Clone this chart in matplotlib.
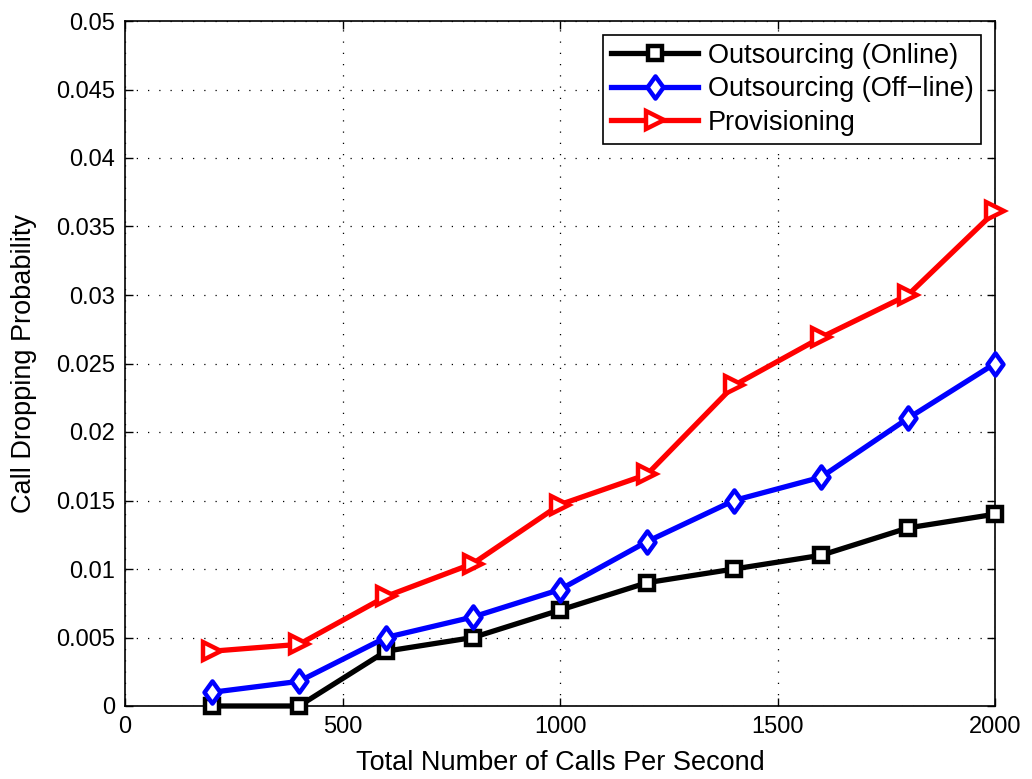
import matplotlib
matplotlib.use("Agg")
import matplotlib.pyplot as plt
from matplotlib.markers import MarkerStyle
from matplotlib.path import Path

plt.rcParams['font.family'] = ['Liberation Sans', 'DejaVu Sans']

calls = [200, 400, 600, 800, 1000, 1200, 1400, 1600, 1800, 2000]
online = [0.0, 0.0, 0.004, 0.005, 0.007, 0.009, 0.010, 0.011, 0.013, 0.014]
offline = [0.001, 0.0018, 0.005, 0.0065, 0.0085, 0.012, 0.015, 0.0167, 0.021, 0.025]
provisioning = [0.004, 0.0045, 0.008, 0.0104, 0.0147, 0.0169, 0.0234, 0.0269, 0.030, 0.0361]

labels = ['Outsourcing (Online)', 'Outsourcing (Off\u2212line)', 'Provisioning']
xticks = [0, 500, 1000, 1500, 2000]
yticks = [0, 0.005, 0.01, 0.015, 0.02, 0.025, 0.03, 0.035, 0.04, 0.045, 0.05]
ytick_labels = ['0', '0.005', '0.01', '0.015', '0.02', '0.025', '0.03', '0.035', '0.04', '0.045', '0.05']

fig = plt.figure(figsize=(10.32, 7.79), dpi=100)
ax = fig.add_axes([125/1032, 1-706/779, 870/1032, 685/779])

diamond = MarkerStyle(Path([(0, 1), (0.72, 0), (0, -1), (-0.72, 0), (0, 1)], closed=True))

lw = 3.8
mew = 3.2
ax.plot(calls, online, color='black', lw=lw, marker='s', ms=10.5, mfc='white', mec='black', mew=mew, label=labels[0], clip_on=False, zorder=3)
ax.plot(calls, offline, color='blue', lw=lw, marker=diamond, ms=16, mfc='white', mec='blue', mew=mew, label=labels[1], clip_on=False, zorder=4)
ax.plot(calls, provisioning, color='red', lw=lw, marker='>', ms=13.5, mfc='white', mec='red', mew=mew, label=labels[2], clip_on=False, zorder=5)

ax.set_xlim(0, 2000)
ax.set_ylim(0, 0.05)
ax.set_xticks(xticks)
ax.set_xticklabels([str(t) for t in xticks])
ax.set_yticks(yticks)
ax.set_yticklabels(ytick_labels)
ax.tick_params(direction='in', top=True, right=True, labelsize=17, length=6, width=1, pad=7)
ax.grid(True, color='black', linestyle=(0, (1, 8)), linewidth=0.9)
for s in ax.spines.values():
    s.set_linewidth(1.2)

ax.set_xlabel('Total Number of Calls Per Second', fontsize=19.5, labelpad=9)
ax.set_ylabel('Call Dropping Probability', fontsize=19.5, labelpad=14)

leg = ax.legend(loc='upper right', fontsize=19.5, frameon=True, fancybox=False, edgecolor='black',
                framealpha=1, handlelength=3.2, borderaxespad=0.5, labelspacing=0.28, handletextpad=0.35,
                borderpad=0.3)
leg.get_frame().set_linewidth(1.2)

fig.savefig('out.png', dpi=100)
